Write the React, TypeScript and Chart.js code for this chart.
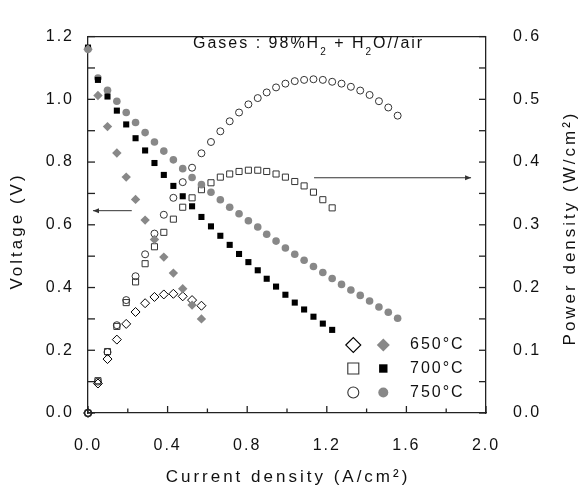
import React, { useEffect, useRef } from 'react';
import { Chart, registerables } from 'chart.js';

Chart.register(...registerables);

// Current density grid (A/cm2), shared by all temperatures
const current = [0, 0.05, 0.098, 0.145, 0.192, 0.239, 0.287, 0.334, 0.381, 0.429, 0.476, 0.523, 0.57, 0.618, 0.665, 0.712, 0.759, 0.806, 0.853, 0.898, 0.945, 0.992, 1.039, 1.086, 1.133, 1.18, 1.227, 1.274, 1.321, 1.368, 1.415, 1.462, 1.509, 1.556];

// 650 °C
const v650 = [1.16, 1.012, 0.913, 0.829, 0.752, 0.681, 0.615, 0.553, 0.497, 0.446, 0.396, 0.344, 0.3];
const p650 = [0, 0.047, 0.086, 0.117, 0.142, 0.161, 0.175, 0.185, 0.189, 0.19, 0.186, 0.18, 0.171];
// 700 °C
const v700 = [1.165, 1.062, 1.009, 0.964, 0.92, 0.876, 0.837, 0.797, 0.759, 0.724, 0.691, 0.659, 0.625, 0.595, 0.565, 0.536, 0.507, 0.481, 0.455, 0.428, 0.403, 0.377, 0.352, 0.33, 0.307, 0.285, 0.265];
const p700 = [0, 0.0515, 0.098, 0.138, 0.176, 0.209, 0.238, 0.265, 0.288, 0.309, 0.328, 0.343, 0.356, 0.367, 0.376, 0.381, 0.385, 0.387, 0.387, 0.385, 0.381, 0.376, 0.369, 0.362, 0.352, 0.34, 0.327];
// 750 °C
const v750 = [1.16, 1.068, 1.029, 0.994, 0.958, 0.926, 0.894, 0.864, 0.835, 0.807, 0.779, 0.751, 0.728, 0.704, 0.68, 0.656, 0.635, 0.613, 0.593, 0.57, 0.548, 0.526, 0.506, 0.487, 0.467, 0.448, 0.429, 0.41, 0.392, 0.375, 0.357, 0.338, 0.321, 0.302];
const p750 = [0, 0.05, 0.097, 0.14, 0.18, 0.218, 0.253, 0.286, 0.316, 0.343, 0.368, 0.391, 0.414, 0.432, 0.449, 0.465, 0.479, 0.492, 0.502, 0.511, 0.519, 0.525, 0.529, 0.531, 0.532, 0.531, 0.528, 0.525, 0.52, 0.514, 0.507, 0.497, 0.487, 0.474];

const tempLabels = ['650°C', '700°C', '750°C'];
const xTitle = 'Current density (A/cm²)';
const yTitle = 'Voltage (V)';
const y1Title = 'Power density (W/cm²)';
const annotParts = [['Gases : 98%H', false], ['2', true], [' + H', false], ['2', true], ['O//air', false]] as [string, boolean][];

const FONT = '"Liberation Sans", Arial, Helvetica, sans-serif';
const GRAY = '#888888';
const DARK = '#222';

const pts = (vals: number[]) => vals.map((v, i) => ({ x: current[i], y: v }));

function marker(ctx: CanvasRenderingContext2D, style: string, x: number, y: number, r: number, fill: string | null, stroke: string | null, lw = 1) {
  ctx.beginPath();
  if (style === 'circle') ctx.arc(x, y, r, 0, Math.PI * 2);
  else if (style === 'rect') ctx.rect(x - r, y - r, 2 * r, 2 * r);
  else { ctx.moveTo(x - r, y); ctx.lineTo(x, y - r); ctx.lineTo(x + r, y); ctx.lineTo(x, y + r); ctx.closePath(); }
  if (fill) { ctx.fillStyle = fill; ctx.fill(); }
  if (stroke) { ctx.strokeStyle = stroke; ctx.lineWidth = lw; ctx.stroke(); }
}

const decoPlugin = {
  id: 'deco',
  beforeLayout(chart: any) { chart.ctx.letterSpacing = '2px'; },
  beforeDraw(chart: any) { chart.ctx.letterSpacing = '2px'; },
  afterDraw(chart: any) {
    const { ctx, chartArea: a, scales } = chart;
    const xs = scales.x, ys = scales.y, y1s = scales.y1;
    ctx.save();
    ctx.strokeStyle = DARK;
    ctx.lineWidth = 1.3;
    const line = (x1: number, y1: number, x2: number, y2: number) => { ctx.beginPath(); ctx.moveTo(x1, y1); ctx.lineTo(x2, y2); ctx.stroke(); };
    // top border
    line(a.left, a.top, a.right, a.top);
    // inward ticks
    for (let i = 0; i <= 10; i++) {
      const px = xs.getPixelForValue(i * 0.2);
      line(px, a.bottom, px, a.bottom - (i % 2 === 0 ? 7 : 4.5));
    }
    for (let i = 0; i <= 12; i++) {
      const py = ys.getPixelForValue(i * 0.1);
      line(a.left, py, a.left + 7, py);
    }
    for (let i = 0; i <= 12; i++) {
      const py = y1s.getPixelForValue(i * 0.05);
      line(a.right, py, a.right - 7, py);
    }
    // arrows
    ctx.lineWidth = 1;
    ctx.strokeStyle = '#333';
    ctx.fillStyle = '#333';
    const arrow = (x1: number, x2: number, yy: number) => {
      line(x1, yy, x2, yy);
      const dir = x2 > x1 ? 1 : -1;
      ctx.beginPath();
      ctx.moveTo(x2, yy);
      ctx.lineTo(x2 - dir * 6, yy - 2.5);
      ctx.lineTo(x2 - dir * 6, yy + 2.5);
      ctx.closePath();
      ctx.fill();
    };
    arrow(xs.getPixelForValue(0.22), xs.getPixelForValue(0.025), ys.getPixelForValue(0.645));
    arrow(xs.getPixelForValue(1.136), xs.getPixelForValue(1.925), y1s.getPixelForValue(0.375));

    // titles
    ctx.fillStyle = '#111';
    ctx.textBaseline = 'middle';
    ctx.textAlign = 'center';
    ctx.font = `17px ${FONT}`;
    ctx.letterSpacing = '3px';
    ctx.fillText(xTitle, 288, 477);
    ctx.save();
    ctx.translate(17, 231);
    ctx.rotate(-Math.PI / 2);
    ctx.fillText(yTitle, 0, 0);
    ctx.restore();
    ctx.save();
    ctx.translate(570, 228);
    ctx.rotate(-Math.PI / 2);
    ctx.fillText(y1Title, 0, 0);
    ctx.restore();

    // annotation
    ctx.textAlign = 'left';
    ctx.textBaseline = 'alphabetic';
    ctx.letterSpacing = '2px';
    let ax = 193;
    for (const [t, sub] of annotParts) {
      ctx.font = sub ? `10px ${FONT}` : `16px ${FONT}`;
      ctx.fillText(t, ax, sub ? 55 : 47.5);
      ax += ctx.measureText(t).width;
    }

    // legend
    const rows = [345, 368.5, 392.5];
    const styles = ['rectRot', 'rect', 'circle'];
    const openR = [7.5, 5.5, 5.5];
    const fillR = [6.5, 4.2, 5];
    const fills = [GRAY, '#000', GRAY];
    const openStroke = ['#000', '#333', '#333'];
    ctx.font = `16px ${FONT}`;
    ctx.textBaseline = 'middle';
    rows.forEach((ry, i) => {
      marker(ctx, styles[i], 353.3, ry, openR[i], '#fff', openStroke[i], 1.1);
      marker(ctx, styles[i], 383.3, ry, fillR[i], fills[i], null);
      ctx.fillStyle = '#111';
      ctx.fillText(tempLabels[i], 410, ry);
    });
    ctx.restore();
  },
};

export default function App() {
  const ref = useRef<HTMLCanvasElement>(null);
  useEffect(() => {
    if (!ref.current) return;
    const openBase = { showLine: false, pointBackgroundColor: 'rgba(255,255,255,0)', pointBorderWidth: 1, clip: false as any, yAxisID: 'y1' };
    const filledBase = { showLine: false, pointBorderWidth: 0, clip: false as any, yAxisID: 'y' };
    const chart = new Chart(ref.current, {
      type: 'scatter',
      data: {
        datasets: [
          { ...filledBase, label: '650 V', data: pts(v650), pointStyle: 'rectRot', pointRadius: 4.7, pointBackgroundColor: GRAY, pointBorderColor: GRAY },
          { ...filledBase, label: '700 V', data: pts(v700), pointStyle: 'rect', pointRadius: 4.3, pointBackgroundColor: '#000', pointBorderColor: '#000' },
          { ...filledBase, label: '750 V', data: pts(v750), pointStyle: 'circle', pointRadius: 3.8, pointBackgroundColor: GRAY, pointBorderColor: GRAY },
          { ...openBase, label: '650 P', data: pts(p650), pointStyle: 'rectRot', pointRadius: 4.5, pointBorderColor: '#000' },
          { ...openBase, label: '700 P', data: pts(p700), pointStyle: 'rect', pointRadius: 4.3, pointBorderColor: '#333' },
          { ...openBase, label: '750 P', data: pts(p750), pointStyle: 'circle', pointRadius: 3.5, pointBorderColor: '#333' },
        ] as any,
      },
      options: {
        responsive: false,
        animation: false,
        layout: { padding: { top: 17, left: 0, right: 0, bottom: 0 } },
        plugins: { legend: { display: false }, tooltip: { enabled: false } },
        scales: {
          x: {
            type: 'linear', min: 0, max: 2,
            afterFit: (s: any) => { s.height = 78; },
            grid: { display: false, drawTicks: false },
            border: { display: true, color: DARK, width: 1.3 },
            ticks: { stepSize: 0.4, padding: 23, color: '#111', font: { family: FONT, size: 16 }, callback: (v: any) => Number(v).toFixed(1) },
          },
          y: {
            type: 'linear', position: 'left', min: 0, max: 1.2,
            afterFit: (s: any) => { s.width = 88; },
            grid: { display: false, drawTicks: false },
            border: { display: true, color: DARK, width: 1.3 },
            ticks: { stepSize: 0.2, padding: 14, color: '#111', font: { family: FONT, size: 16 }, callback: (v: any) => Number(v).toFixed(1) },
          },
          y1: {
            type: 'linear', position: 'right', min: 0, max: 0.6,
            afterFit: (s: any) => { s.width = 94; },
            grid: { display: false, drawTicks: false },
            border: { display: true, color: DARK, width: 1.3 },
            ticks: { stepSize: 0.1, padding: 27, color: '#111', font: { family: FONT, size: 16 }, callback: (v: any) => Number(v).toFixed(1) },
          },
        } as any,
      },
      plugins: [decoPlugin],
    });
    return () => chart.destroy();
  }, []);
  return (
    <div style={{ position: 'absolute', left: 0, top: 0, width: 580, height: 491, background: '#fff' }}>
      <canvas ref={ref} width={580} height={491} style={{ display: 'block' }} />
    </div>
  );
}
